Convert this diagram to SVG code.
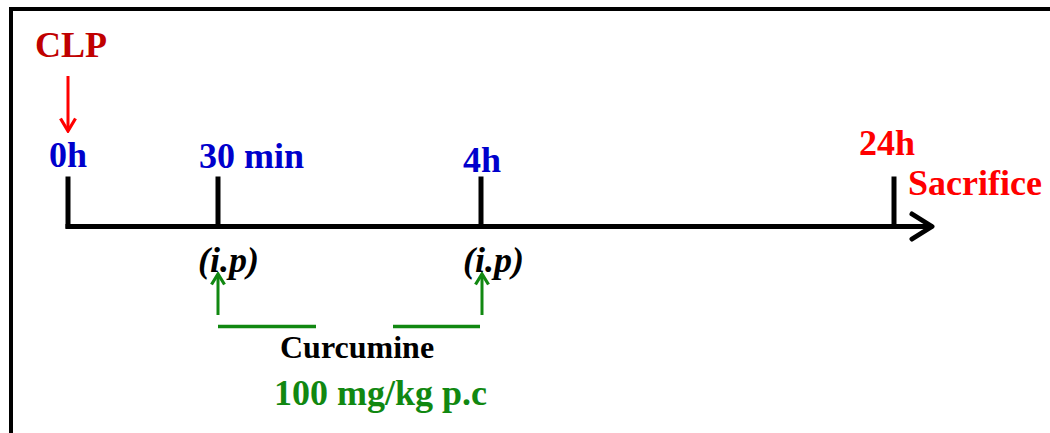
<svg xmlns="http://www.w3.org/2000/svg" width="1050" height="433" viewBox="0 0 1050 433">
<defs>
<style>
text{font-family:"Liberation Serif","Times New Roman",serif;font-weight:bold;font-size:36px}
.blue{fill:#0000cc}
.red{fill:#ff0000}
.dred{fill:#c00000}
.green{fill:#118811}
.blk{stroke:#000;stroke-width:5;fill:none;stroke-linecap:square}
.gl{stroke:#118811;stroke-width:3.5;fill:none}
</style>
<marker id="redArrow" viewBox="0 0 16 18" refX="14" refY="9" markerWidth="16" markerHeight="18" markerUnits="userSpaceOnUse" orient="auto">
<path d="M1.5,1.5 L14,9 L1.5,16.5" fill="none" stroke="#ff0000" stroke-width="3.2"/>
</marker>
<marker id="greenArrow" viewBox="0 0 14 16" refX="12" refY="8" markerWidth="14" markerHeight="16" markerUnits="userSpaceOnUse" orient="auto">
<path d="M1.5,1.5 L12,8 L1.5,14.5" fill="none" stroke="#118811" stroke-width="3.2"/>
</marker>
</defs>
<rect x="0" y="0" width="1050" height="433" fill="#fff"/>
<rect id="frame" x="11" y="9" width="1060" height="450" fill="none" stroke="#000" stroke-width="4"/>
<g id="connectors">
<path class="blk" d="M68,226.5 H930"/>
<path d="M912,214 L932,226.5 L912,239" fill="none" stroke="#000" stroke-width="5" stroke-linecap="round" stroke-linejoin="round"/>
<path class="blk" d="M68,179 V226"/>
<path class="blk" d="M218,179 V226"/>
<path class="blk" d="M481,179 V226"/>
<path class="blk" d="M894,179 V226"/>
<line x1="68" y1="76" x2="68" y2="131" stroke="#ff0000" stroke-width="3" marker-end="url(#redArrow)"/>
<line x1="218" y1="315" x2="218" y2="274" stroke="#118811" stroke-width="3" marker-end="url(#greenArrow)"/>
<line x1="482" y1="315" x2="482" y2="274" stroke="#118811" stroke-width="3" marker-end="url(#greenArrow)"/>
<path class="gl" d="M218,326.5 H316"/>
<path class="gl" d="M393,326.5 H480"/>
</g>
<g id="clp"><text class="dred" x="35" y="57">CLP</text></g>
<g id="t0"><text class="blue" x="49" y="167">0h</text></g>
<g id="t30"><text class="blue" x="199" y="168">30 min</text></g>
<g id="t4"><text class="blue" x="463" y="172">4h</text></g>
<g id="t24"><text class="red" x="859" y="155">24h</text></g>
<g id="sacrifice"><text class="red" x="908" y="195">Sacrifice</text></g>
<g id="ip1"><text x="198" y="272" font-style="italic">(i.p)</text></g>
<g id="ip2"><text x="463" y="272" font-style="italic">(i.p)</text></g>
<g id="curcumine"><text x="280" y="358" style="font-size:32px">Curcumine</text></g>
<g id="dose"><text class="green" x="274" y="405">100 mg/kg p.c</text></g>
</svg>
